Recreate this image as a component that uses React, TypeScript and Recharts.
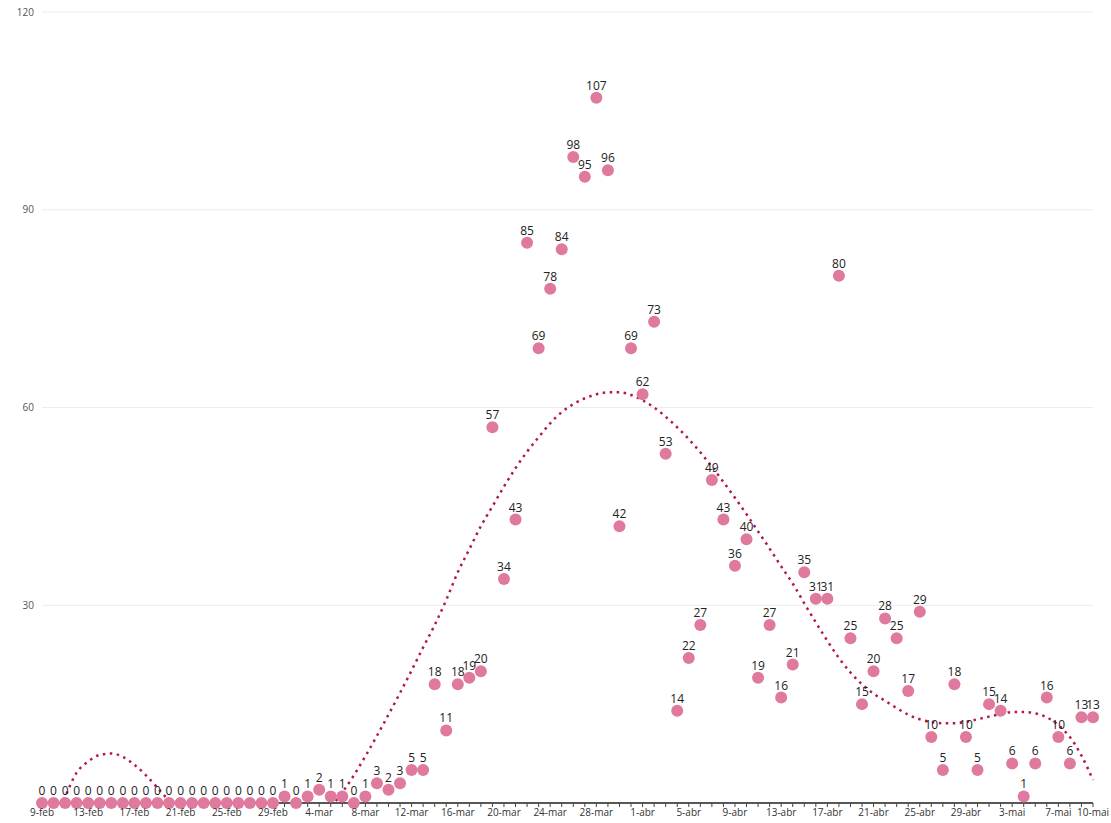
import { LineChart, Line, XAxis, YAxis, CartesianGrid, LabelList } from 'recharts';

// dias (9-feb a 10-mai)
const feb = ['9-feb', '10-feb', '11-feb', '12-feb', '13-feb', '14-feb', '15-feb', '16-feb', '17-feb', '18-feb', '19-feb',
  '20-feb', '21-feb', '22-feb', '23-feb', '24-feb', '25-feb', '26-feb', '27-feb', '28-feb', '29-feb'];
const mar = ['1-mar', '2-mar', '3-mar', '4-mar', '5-mar', '6-mar', '7-mar', '8-mar', '9-mar', '10-mar', '11-mar',
  '12-mar', '13-mar', '14-mar', '15-mar', '16-mar', '17-mar', '18-mar', '19-mar', '20-mar', '21-mar', '22-mar',
  '23-mar', '24-mar', '25-mar', '26-mar', '27-mar', '28-mar', '29-mar', '30-mar', '31-mar'];
const abr = ['1-abr', '2-abr', '3-abr', '4-abr', '5-abr', '6-abr', '7-abr', '8-abr', '9-abr', '10-abr', '11-abr',
  '12-abr', '13-abr', '14-abr', '15-abr', '16-abr', '17-abr', '18-abr', '19-abr', '20-abr', '21-abr', '22-abr',
  '23-abr', '24-abr', '25-abr', '26-abr', '27-abr', '28-abr', '29-abr', '30-abr'];
const mai = ['1-mai', '2-mai', '3-mai', '4-mai', '5-mai', '6-mai', '7-mai', '8-mai', '9-mai', '10-mai'];

const casosFeb = [0, 0, 0, 0, 0, 0, 0, 0, 0, 0, 0, 0, 0, 0, 0, 0, 0, 0, 0, 0, 0];
const casosMar = [1, 0, 1, 2, 1, 1, 0, 1, 3, 2, 3, 5, 5, 18, 11, 18, 19, 20, 57, 34, 43, 85, 69, 78, 84, 98, 95, 107, 96, 42, 69];
const casosAbr = [62, 73, 53, 14, 22, 27, 49, 43, 36, 40, 19, 27, 16, 21, 35, 31, 31, 80, 25, 15, 20, 28, 25, 17, 29, 10, 5, 18, 10, 5];
const casosMai = [15, 14, 6, 1, 6, 16, 10, 6, 13, 13];

// linha de tendencia
const tendencia = [
  -5, -2.5, 1, 4.6, 6.3, 7.3, 7.5, 7, 5.8, 4.2, 2.3, 0.3, -1.8, -3.8, -5.6, -7.1, -8.5, -9.2, -9.4, -9.1, -8.4,
  -7.3, -5.9, -4.2, -2.4, -0.6, 1.6, 4.2, 7.1, 10.2, 13.4, 16.7, 20.1, 23.6, 27, 30.8, 35, 38.5, 42, 45, 48,
  50.8, 53.3, 55.5, 57.6, 59.3, 60.5, 61.4, 62, 62.3, 62.3, 61.9,
  61.1, 60, 58.6, 57, 55.2, 53.2, 51, 48.7, 46.3, 43.8, 41.2, 38.6, 35.9, 33.3, 30.3, 27.4, 24.6, 22, 19.8,
  18, 16.6, 15.5, 14.4, 13.4, 12.7, 12.3, 12.1, 12.1, 12.3, 12.7,
  13.1, 13.5, 13.8, 13.8, 13.6, 13, 11.8, 10, 7.2, 3.5,
];

const yTicks = [30, 60, 90, 120];

const dias = [...feb, ...mar, ...abr, ...mai];
const casos = [...casosFeb, ...casosMar, ...casosAbr, ...casosMai];
const data = dias.map((d, i) => ({ dia: d, casos: casos[i], tendencia: tendencia[i] }));

const DiaTick = (props: any) => {
  const { x, y, payload, index } = props;
  if (index % 4 !== 0 && index !== dias.length - 1) return <g />;
  return (
    <text x={x} y={y} dy="0.71em" textAnchor="middle" fontSize={10} fill="#333">
      {payload.value}
    </text>
  );
};

export default function App() {
  return (
    <div style={{ width: 1111, height: 823 }}>
      <style>{`body{margin:0}`}</style>
      <LineChart
        width={1111}
        height={823}
        data={data}
        margin={{ top: 12, right: 18, bottom: 0, left: 0 }}
        style={{ fontFamily: '"Open Sans", sans-serif' }}
      >
        <CartesianGrid stroke="#ececec" vertical={false} yAxisId="y" />
        <XAxis
          dataKey="dia"
          scale="point"
          padding={{ left: 0, right: 0 }}
          interval={0}
          height={20}
          tick={<DiaTick />}
          tickSize={4}
          tickMargin={2}
          stroke="#222"
          axisLine={{ stroke: '#222', strokeWidth: 1.5 }}
          tickLine={{ stroke: '#444' }}
        />
        <YAxis
          yAxisId="y"
          orientation="left"
          width={42}
          domain={[0, 120]}
          ticks={yTicks}
          allowDataOverflow
          axisLine={false}
          tickLine={false}
          tick={{ fontSize: 10, fill: '#555' }}
        />
        <YAxis yAxisId="pts" orientation="right" hide domain={[0, 120]} />
        <Line
          yAxisId="y"
          dataKey="tendencia"
          type="monotone"
          stroke="#b3174f"
          strokeWidth={2.5}
          strokeDasharray="2.5 4.5"
          dot={false}
          activeDot={false}
          isAnimationActive={false}
        />
        <Line
          yAxisId="pts"
          dataKey="casos"
          stroke="none"
          dot={{ r: 6, fill: '#df7a9e', stroke: 'none' }}
          activeDot={false}
          isAnimationActive={false}
        >
          <LabelList dataKey="casos" position="top" offset={8} fill="#222" fontSize={12} />
        </Line>
      </LineChart>
    </div>
  );
}
